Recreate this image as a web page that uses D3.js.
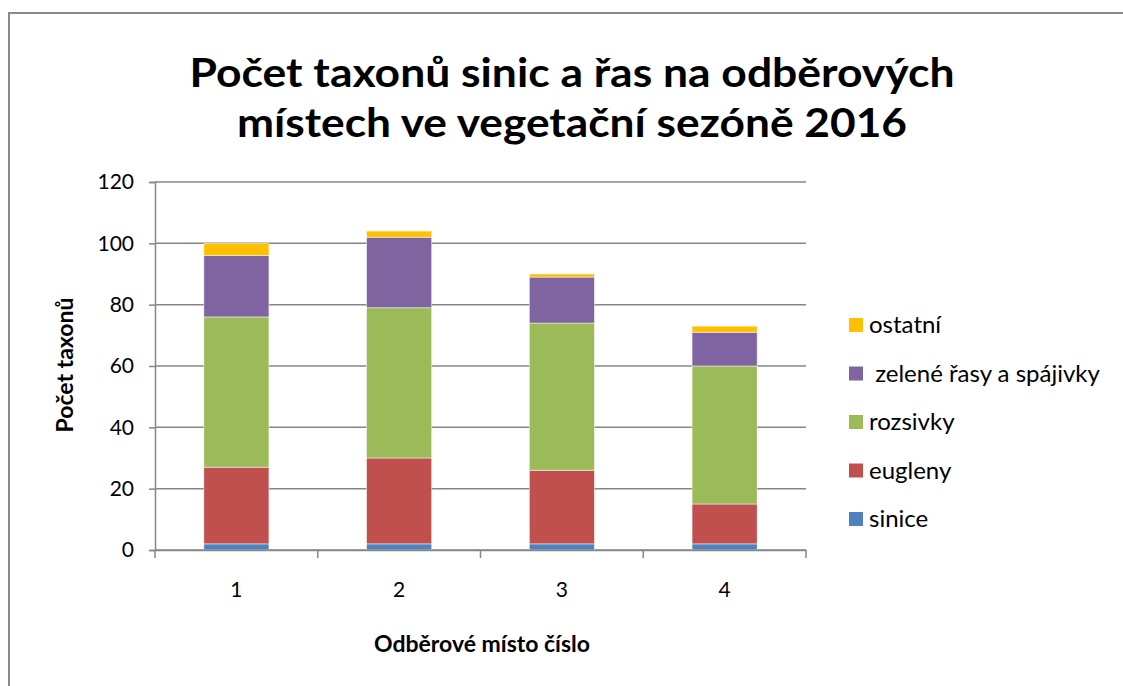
<!DOCTYPE html>
<html>
<head>
<meta charset="utf-8">
<script src="https://cdn.jsdelivr.net/npm/d3@7"></script>
<style>
  body { margin: 0; background: #fff; }
  svg text { font-family: Lato, "Open Sans", sans-serif; fill: #000; }
</style>
</head>
<body>
<svg id="chart" width="1123" height="686"></svg>
<script>
// categories and series
const sites = ["1", "2", "3", "4"];
const seriesNames = ["sinice", "eugleny", "rozsivky", " zelené řasy a spájivky", "ostatní"];
const seriesColors = ["#4F81BD", "#C0504D", "#9BBB59", "#8064A2", "#FFC000"];
const sinice = [2, 2, 2, 2];
const eugleny = [25, 28, 24, 13];
const rozsivky = [49, 49, 48, 45];
const zelene = [20, 23, 15, 11];
const ostatni = [4, 2, 1, 2];
const yTicks = [0, 20, 40, 60, 80, 100, 120];

const seriesValues = [sinice, eugleny, rozsivky, zelene, ostatni];
const rows = sites.map((s, i) => {
    const r = {site: s};
    seriesNames.forEach((n, k) => r[n] = seriesValues[k][i]);
    return r;
});

const svg = d3.select("#chart");

// outer chart frame
svg.append("path")
    .attr("d", "M9,700 L9,13 L1130,13")
    .attr("fill", "none")
    .attr("stroke", "#8a8a8a")
    .attr("stroke-width", 2);

const plot = {left: 155, right: 806, top: 182, bottom: 550};

const x = d3.scaleBand()
    .domain(sites)
    .range([plot.left, plot.right])
    .paddingInner(0.6)
    .paddingOuter(0.3);

const xOuter = d3.scaleBand()
    .domain(sites)
    .range([plot.left, plot.right]);

const y = d3.scaleLinear()
    .domain([0, 120])
    .range([plot.bottom, plot.top]);

// gridlines
svg.append("g")
    .selectAll("line")
    .data(yTicks)
    .join("line")
    .attr("x1", plot.left)
    .attr("x2", plot.right)
    .attr("y1", d => y(d))
    .attr("y2", d => y(d))
    .attr("stroke", "#868686")
    .attr("stroke-width", 1.5);

// stacked bars
const stack = d3.stack().keys(seriesNames)(rows);
svg.append("g")
    .selectAll("g")
    .data(stack)
    .join("g")
    .attr("fill", (d, i) => seriesColors[i])
    .selectAll("rect")
    .data(d => d)
    .join("rect")
    .attr("x", d => x(d.data.site))
    .attr("width", x.bandwidth())
    .attr("y", d => y(d[1]))
    .attr("height", d => y(d[0]) - y(d[1]))
    .attr("stroke", "rgba(255,255,255,0.6)")
    .attr("stroke-width", 0.8);

// y axis
const yAxis = svg.append("g")
    .attr("transform", `translate(${plot.left},0)`)
    .call(d3.axisLeft(y).tickValues(yTicks).tickSize(6).tickPadding(15));
yAxis.selectAll("path, line").attr("stroke", "#868686").attr("stroke-width", 1.5);
yAxis.selectAll("text")
    .style("font-family", "Lato, sans-serif")
    .attr("font-size", 21)
    .attr("fill", "#000");

// x axis
const xAxis = svg.append("g")
    .attr("transform", `translate(0,${plot.bottom})`)
    .call(d3.axisBottom(xOuter).tickSize(0).tickPadding(32));
xAxis.select(".domain").attr("stroke", "#868686").attr("stroke-width", 1.5);
xAxis.selectAll("text")
    .style("font-family", "Lato, sans-serif")
    .attr("font-size", 21)
    .attr("fill", "#000");
// x tick marks at category boundaries
svg.append("g")
    .selectAll("line")
    .data(sites.map(s => xOuter(s)).concat([plot.right]))
    .join("line")
    .attr("x1", d => d)
    .attr("x2", d => d)
    .attr("y1", plot.bottom)
    .attr("y2", plot.bottom + 8)
    .attr("stroke", "#868686")
    .attr("stroke-width", 1.5);

// title
const title = svg.append("text")
    .attr("text-anchor", "middle")
    .attr("font-weight", "bold")
    .attr("font-size", 40);
title.append("tspan").attr("x", 572).attr("y", 87)
    .attr("textLength", 765).attr("lengthAdjust", "spacingAndGlyphs")
    .text("Počet taxonů sinic a řas na odběrových");
title.append("tspan").attr("x", 572).attr("y", 137)
    .attr("textLength", 670).attr("lengthAdjust", "spacingAndGlyphs")
    .text("místech ve vegetační sezóně 2016");

// axis titles
svg.append("text")
    .attr("transform", "translate(73,365) rotate(-90)")
    .attr("text-anchor", "middle")
    .attr("font-weight", "bold")
    .attr("font-size", 23)
    .text("Počet taxonů");

svg.append("text")
    .attr("x", 482)
    .attr("y", 652)
    .attr("text-anchor", "middle")
    .attr("font-weight", "bold")
    .attr("font-size", 23)
    .text("Odběrové místo číslo");

// legend (top to bottom: last series first)
const legendItems = seriesNames.map((n, i) => ({name: n, color: seriesColors[i]})).reverse();
const legend = svg.append("g")
    .selectAll("g")
    .data(legendItems)
    .join("g")
    .attr("transform", (d, i) => `translate(849,${325 + i * 48.5})`);
legend.append("rect")
    .attr("x", 0)
    .attr("y", -7)
    .attr("width", 14)
    .attr("height", 14)
    .attr("fill", d => d.color);
legend.append("text")
    .attr("x", 20)
    .attr("y", 8)
    .attr("font-size", 24)
    .style("white-space", "pre")
    .text(d => d.name);
</script>
</body>
</html>
